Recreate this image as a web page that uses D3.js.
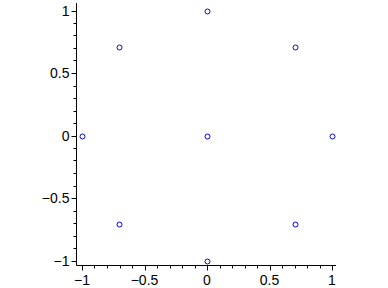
<!DOCTYPE html>
<html>
<head>
<meta charset="utf-8">
<script src="https://cdn.jsdelivr.net/npm/d3@7"></script>
<style>
  body { margin: 0; background: #fff; }
  svg text { font-family: "Liberation Sans", Arial, sans-serif; font-size: 14px; fill: #000; }
</style>
</head>
<body>
<div id="chart"></div>
<script>
var pointX = [0, -0.7071, 0.7071, -1, 0, 1, -0.7071, 0.7071, 0];
var pointY = [1, 0.7071, 0.7071, 0, 0, 0, -0.7071, -0.7071, -1];
var majorTicks = [-1, -0.5, 0, 0.5, 1];
var tickLabels = ['\u22121', '\u22120.5', '0', '0.5', '1'];
var minorTicks = d3.range(-10, 11).map(function (d) { return d / 10; });

var svg = d3.select('#chart').append('svg').attr('width', 388).attr('height', 288);

var x = d3.scaleLinear().domain([-1, 1]).range([82, 332]);
var y = d3.scaleLinear().domain([-1, 1]).range([260.5, 10.5]);

var axisX = 76.5, axisY = 265.5;

// axis lines
svg.append('line').attr('x1', axisX).attr('x2', axisX).attr('y1', 3).attr('y2', axisY)
  .attr('stroke', '#000');
svg.append('line').attr('x1', axisX).attr('x2', 336).attr('y1', axisY).attr('y2', axisY)
  .attr('stroke', '#000');

// y ticks
svg.selectAll('.ytick').data(minorTicks).enter().append('line')
  .attr('x1', function (d) { return majorTicks.indexOf(d) >= 0 ? axisX - 5 : axisX - 3; })
  .attr('x2', axisX)
  .attr('y1', function (d) { return Math.round(y(d)) + 0.5; })
  .attr('y2', function (d) { return Math.round(y(d)) + 0.5; })
  .attr('stroke', '#000');
svg.selectAll('.ylab').data(majorTicks).enter().append('text')
  .attr('x', axisX - 7)
  .attr('y', function (d) { return y(d) + 5; })
  .attr('text-anchor', 'end')
  .text(function (d, i) { return tickLabels[i]; });

// x ticks
svg.selectAll('.xtick').data(minorTicks).enter().append('line')
  .attr('x1', function (d) { return Math.round(x(d)) + 0.5; })
  .attr('x2', function (d) { return Math.round(x(d)) + 0.5; })
  .attr('y1', axisY)
  .attr('y2', function (d) { return majorTicks.indexOf(d) >= 0 ? axisY + 5 : axisY + 3; })
  .attr('stroke', '#000');
svg.selectAll('.xlab').data(majorTicks).enter().append('text')
  .attr('x', function (d) { return x(d); })
  .attr('y', 285)
  .attr('text-anchor', 'middle')
  .text(function (d, i) { return tickLabels[i]; });

// points
svg.selectAll('.pt').data(pointX).enter().append('circle')
  .attr('cx', function (d) { return Math.round(x(d)) + 0.5; })
  .attr('cy', function (d, i) { return Math.round(y(pointY[i])) + 0.5; })
  .attr('r', 2.5)
  .attr('fill', 'none')
  .attr('stroke', '#0000ff')
  .attr('stroke-width', 1);
</script>
</body>
</html>
